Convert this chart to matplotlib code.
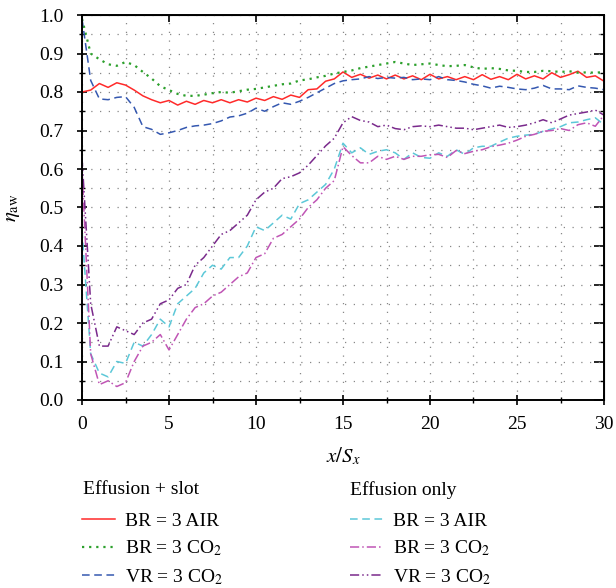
import numpy as np
import matplotlib
matplotlib.use("Agg")
import matplotlib.pyplot as plt
from matplotlib.lines import Line2D
from matplotlib.ticker import MultipleLocator, NullFormatter

plt.rcParams['font.family'] = ['Liberation Serif', 'DejaVu Serif']
plt.rcParams['mathtext.fontset'] = 'stix'

# x/Sx positions (step 0.5)
x = np.arange(0, 30.01, 0.5)

# Effusion + slot
slot_br_air = [0.800, 0.805, 0.822, 0.812, 0.824, 0.818, 0.805, 0.790, 0.780, 0.772,
               0.778, 0.766, 0.776, 0.768, 0.778, 0.772, 0.780, 0.772, 0.780, 0.774,
               0.784, 0.778, 0.788, 0.781, 0.792, 0.786, 0.806, 0.808, 0.828, 0.834,
               0.852, 0.838, 0.846, 0.836, 0.844, 0.834, 0.844, 0.834, 0.842, 0.832,
               0.846, 0.834, 0.840, 0.832, 0.840, 0.832, 0.845, 0.833, 0.840, 0.832,
               0.846, 0.834, 0.842, 0.834, 0.850, 0.838, 0.845, 0.854, 0.838, 0.842,
               0.828]
slot_br_co2 = [0.990, 0.900, 0.885, 0.872, 0.868, 0.878, 0.870, 0.852, 0.835, 0.815,
               0.805, 0.795, 0.790, 0.790, 0.793, 0.797, 0.800, 0.798, 0.802, 0.806,
               0.808, 0.812, 0.816, 0.820, 0.822, 0.830, 0.833, 0.838, 0.842, 0.848,
               0.852, 0.856, 0.862, 0.866, 0.870, 0.874, 0.878, 0.874, 0.870, 0.872,
               0.874, 0.870, 0.867, 0.868, 0.870, 0.864, 0.860, 0.862, 0.860, 0.856,
               0.855, 0.852, 0.852, 0.855, 0.854, 0.852, 0.854, 0.850, 0.851, 0.850,
               0.852]
slot_vr_co2 = [0.990, 0.830, 0.782, 0.780, 0.786, 0.788, 0.760, 0.710, 0.703, 0.690,
               0.694, 0.700, 0.708, 0.712, 0.714, 0.718, 0.725, 0.735, 0.738, 0.745,
               0.758, 0.750, 0.762, 0.772, 0.768, 0.776, 0.786, 0.798, 0.810, 0.822,
               0.829, 0.832, 0.834, 0.840, 0.835, 0.838, 0.836, 0.838, 0.832, 0.834,
               0.832, 0.840, 0.832, 0.830, 0.826, 0.820, 0.816, 0.810, 0.815, 0.812,
               0.808, 0.806, 0.810, 0.817, 0.808, 0.808, 0.806, 0.816, 0.812, 0.810,
               0.806]

# Effusion only
eff_br_air = [0.440, 0.120, 0.070, 0.060, 0.100, 0.095, 0.150, 0.140, 0.170, 0.210,
              0.190, 0.250, 0.270, 0.290, 0.330, 0.350, 0.340, 0.370, 0.370, 0.400,
              0.450, 0.440, 0.460, 0.480, 0.470, 0.510, 0.520, 0.540, 0.560, 0.600,
              0.667, 0.642, 0.655, 0.638, 0.646, 0.650, 0.642, 0.625, 0.642, 0.630,
              0.628, 0.642, 0.633, 0.650, 0.638, 0.655, 0.659, 0.659, 0.670, 0.680,
              0.685, 0.688, 0.690, 0.698, 0.704, 0.710, 0.720, 0.722, 0.728, 0.733,
              0.715]
eff_br_co2 = [0.600, 0.120, 0.040, 0.050, 0.035, 0.045, 0.100, 0.140, 0.150, 0.170,
              0.130, 0.170, 0.210, 0.240, 0.250, 0.270, 0.280, 0.300, 0.320, 0.330,
              0.370, 0.380, 0.420, 0.430, 0.450, 0.470, 0.500, 0.520, 0.550, 0.570,
              0.658, 0.635, 0.616, 0.616, 0.633, 0.625, 0.633, 0.625, 0.633, 0.633,
              0.637, 0.638, 0.630, 0.648, 0.640, 0.646, 0.650, 0.658, 0.662, 0.667,
              0.675, 0.685, 0.690, 0.698, 0.700, 0.705, 0.700, 0.715, 0.720, 0.711,
              0.740]
eff_vr_co2 = [0.630, 0.250, 0.140, 0.140, 0.190, 0.180, 0.170, 0.200, 0.210, 0.250,
              0.260, 0.290, 0.300, 0.350, 0.370, 0.400, 0.430, 0.440, 0.460, 0.480,
              0.520, 0.540, 0.550, 0.575, 0.580, 0.590, 0.610, 0.635, 0.660, 0.680,
              0.720, 0.736, 0.726, 0.722, 0.710, 0.714, 0.705, 0.702, 0.710, 0.712,
              0.710, 0.714, 0.710, 0.706, 0.706, 0.702, 0.706, 0.710, 0.714, 0.708,
              0.710, 0.714, 0.720, 0.728, 0.720, 0.730, 0.740, 0.744, 0.748, 0.753,
              0.740]

labels = ['BR = 3 AIR', 'BR = 3 CO$_2$', 'VR = 3 CO$_2$']

fig = plt.figure(figsize=(6.16, 5.88), dpi=100)
ax = fig.add_axes([82 / 616, 188 / 588, 522 / 616, 385 / 588])

slot_styles = [dict(color='#ff2a2a', ls='-', lw=1.1),
               dict(color='#2ca02c', ls=(0, (1, 2.2)), lw=1.6),
               dict(color='#3558b0', ls=(0, (5, 3)), lw=1.1)]
eff_styles = [dict(color='#5cc8d8', ls=(0, (5, 3)), lw=1.1),
              dict(color='#c055b5', ls=(0, (6, 2, 1, 2)), lw=1.1),
              dict(color='#7a2a8c', ls=(0, (6, 2, 1, 2, 1, 2)), lw=1.1)]

for y, st in zip([slot_br_air, slot_br_co2, slot_vr_co2], slot_styles):
    ax.plot(x, y, **st)
for y, st in zip([eff_br_air, eff_br_co2, eff_vr_co2], eff_styles):
    ax.plot(x, y, **st)

ax.set_xlim(0, 30)
ax.set_ylim(0, 1)
ax.xaxis.set_major_locator(MultipleLocator(5))
ax.xaxis.set_minor_locator(MultipleLocator(2.5))
ax.yaxis.set_major_locator(MultipleLocator(0.1))
ax.yaxis.set_minor_locator(MultipleLocator(0.05))
ax.yaxis.set_major_formatter(plt.FormatStrFormatter('%.1f'))
ax.grid(True, which='both', color='#888888', ls=(0, (1, 6)), lw=0.9)
ax.tick_params(which='major', direction='inout', length=7, width=1.2, labelsize=14)
ax.tick_params(which='minor', direction='inout', length=4, width=1.0)
ax.tick_params(axis='x', pad=8)
ax.tick_params(axis='y', pad=10)
for s in ax.spines.values():
    s.set_linewidth(1.4)

# inward ticks on top and right
top = ax.secondary_xaxis('top')
top.xaxis.set_major_locator(MultipleLocator(5))
top.xaxis.set_major_formatter(NullFormatter())
top.tick_params(direction='in', length=5, width=1.2)
right = ax.secondary_yaxis('right')
right.yaxis.set_major_locator(MultipleLocator(0.1))
right.yaxis.set_minor_locator(MultipleLocator(0.05))
right.yaxis.set_major_formatter(NullFormatter())
right.tick_params(which='major', direction='in', length=7, width=1.2)
right.tick_params(which='minor', direction='in', length=3, width=1.0)

ax.set_xlabel('$x/S_x$', fontsize=15, labelpad=9)
ax.set_ylabel(r'$\eta_{\mathrm{aw}}$', fontsize=15, labelpad=12)

# two legend blocks with left-aligned headers
fig.text(83 / 616, 1 - 490 / 588, 'Effusion + slot', fontsize=14, va='center', ha='left')
fig.text(350 / 616, 1 - 490 / 588, 'Effusion only', fontsize=14, va='center', ha='left')

h1 = [Line2D([], [], **st) for st in slot_styles]
h2 = [Line2D([], [], **st) for st in eff_styles]
leg_kw = dict(frameon=False, fontsize=14, loc='upper left',
              handlelength=1.7, handletextpad=0.5, labelspacing=0.45,
              borderaxespad=0, borderpad=0)
fig.legend(h1, labels, bbox_to_anchor=(82 / 616, 1 - 512 / 588), **leg_kw)
fig.legend(h2, labels, bbox_to_anchor=(350 / 616, 1 - 512 / 588), **leg_kw)

fig.savefig('out.png', dpi=100)
